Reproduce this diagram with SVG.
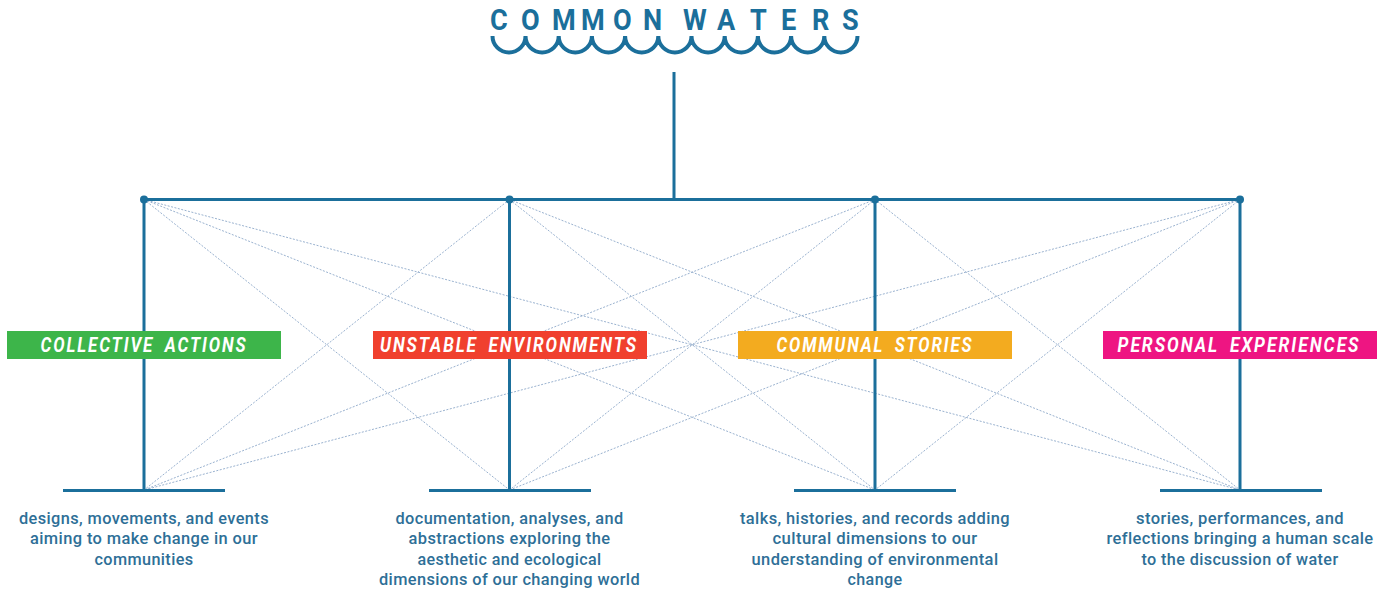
<svg xmlns="http://www.w3.org/2000/svg" width="1387" height="591" viewBox="0 0 1387 591">
<style>
.tree{stroke:#1b6f9b;stroke-width:3;fill:none}
.dot{fill:#1b6f9b}
.x{stroke:#8ea9c9;stroke-width:.9;stroke-dasharray:2 1.5;fill:none}
.lab{font-family:"Roboto","Liberation Sans",sans-serif;font-weight:700;font-style:italic;font-size:19.5px;letter-spacing:2.2px;word-spacing:5px;fill:#fff;text-anchor:middle}
.desc{font-family:"Roboto","Liberation Sans",sans-serif;font-weight:500;font-size:16.5px;letter-spacing:.4px;fill:#2e6f97;text-anchor:middle}
.title{font-family:"Roboto","Liberation Sans",sans-serif;font-weight:700;font-size:29.5px;fill:#1b6f9b}
</style>
<g id="connectors">
<path class="x" d="M144 199.5L509.5 490M144 199.5L875 490M144 199.5L1240 490M509.5 199.5L144 490M509.5 199.5L875 490M509.5 199.5L1240 490M875 199.5L144 490M875 199.5L509.5 490M875 199.5L1240 490M1240 199.5L144 490M1240 199.5L509.5 490M1240 199.5L875 490"/>
<path class="tree" d="M674 72V199.5M144 199.5H1240M144 199.5V490M509.5 199.5V490M875 199.5V490M1240 199.5V490M63 490.5H225M429 490.5H591M794 490.5H956M1160 490.5H1322"/>
<circle class="dot" cx="144" cy="199.5" r="4"/><circle class="dot" cx="509.5" cy="199.5" r="4"/><circle class="dot" cx="875" cy="199.5" r="4"/><circle class="dot" cx="1240" cy="199.5" r="4"/>
</g>
<g id="title">
<text class="title" transform="scale(.92 1)" y="30.5" x="532.6 566.3 600 631.5 666.3 698.9 0 742.4 779.3 815.2 848.9 882.6 915.2">COMMON WATERS</text>
<path d="M492.5 36a16.5 16.5 0 0 0 33 0a16.6 16.5 0 0 0 33.2 0a16.6 16.5 0 0 0 33.2 0a16.6 16.5 0 0 0 33.2 0a16.6 16.5 0 0 0 33.2 0a16.6 16.5 0 0 0 33.2 0a16.6 16.5 0 0 0 33.2 0a16.6 16.5 0 0 0 33.2 0a16.6 16.5 0 0 0 33.2 0a16.6 16.5 0 0 0 33.2 0a16.6 16.5 0 0 0 33.2 0" fill="none" stroke="#1b6f9b" stroke-width="4"/>
</g>
<g id="node-collective">
<rect x="7" y="331" width="274" height="28" fill="#3db54a"/>
<text class="lab" x="144" y="352" textLength="207" lengthAdjust="spacingAndGlyphs">COLLECTIVE ACTIONS</text>
<text class="desc" x="144" y="523.5" textLength="250" lengthAdjust="spacingAndGlyphs">designs, movements, and events</text>
<text class="desc" x="144" y="544" textLength="228" lengthAdjust="spacingAndGlyphs">aiming to make change in our</text>
<text class="desc" x="144" y="564.5" textLength="99" lengthAdjust="spacingAndGlyphs">communities</text>
</g>
<g id="node-unstable">
<rect x="373" y="331" width="274" height="28" fill="#f0402e"/>
<text class="lab" x="509" y="352" textLength="258" lengthAdjust="spacingAndGlyphs">UNSTABLE ENVIRONMENTS</text>
<text class="desc" x="509.5" y="523.5" textLength="228" lengthAdjust="spacingAndGlyphs">documentation, analyses, and</text>
<text class="desc" x="509.5" y="544" textLength="202" lengthAdjust="spacingAndGlyphs">abstractions exploring the</text>
<text class="desc" x="509.5" y="564.5" textLength="184" lengthAdjust="spacingAndGlyphs">aesthetic and ecological</text>
<text class="desc" x="509.5" y="585" textLength="261" lengthAdjust="spacingAndGlyphs">dimensions of our changing world</text>
</g>
<g id="node-communal">
<rect x="738" y="331" width="274" height="28" fill="#f3ab1f"/>
<text class="lab" x="875" y="352" textLength="197" lengthAdjust="spacingAndGlyphs">COMMUNAL STORIES</text>
<text class="desc" x="875" y="523.5" textLength="270" lengthAdjust="spacingAndGlyphs">talks, histories, and records adding</text>
<text class="desc" x="875" y="544" textLength="205" lengthAdjust="spacingAndGlyphs">cultural dimensions to our</text>
<text class="desc" x="875" y="564.5" textLength="247" lengthAdjust="spacingAndGlyphs">understanding of environmental</text>
<text class="desc" x="875" y="585" textLength="55" lengthAdjust="spacingAndGlyphs">change</text>
</g>
<g id="node-personal">
<rect x="1103" y="331" width="274" height="28" fill="#ee1582"/>
<text class="lab" x="1239" y="352" textLength="243" lengthAdjust="spacingAndGlyphs">PERSONAL EXPERIENCES</text>
<text class="desc" x="1240" y="523.5" textLength="208" lengthAdjust="spacingAndGlyphs">stories, performances, and</text>
<text class="desc" x="1240" y="544" textLength="267" lengthAdjust="spacingAndGlyphs">reflections bringing a human scale</text>
<text class="desc" x="1240" y="564.5" textLength="197" lengthAdjust="spacingAndGlyphs">to the discussion of water</text>
</g>
</svg>
